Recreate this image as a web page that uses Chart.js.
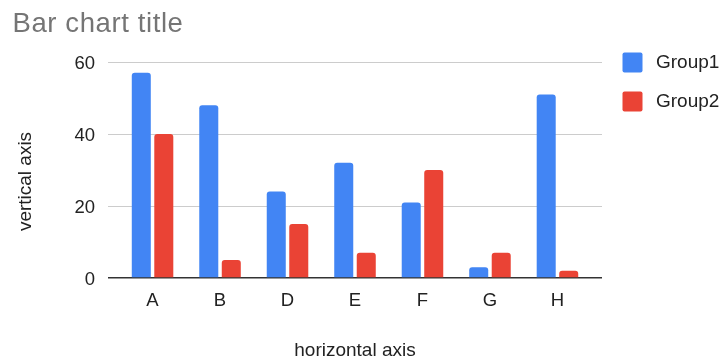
<!DOCTYPE html>
<html>
<head>
<meta charset="utf-8">
<script src="https://cdn.jsdelivr.net/npm/chart.js@4"></script>
<style>
  html, body { margin: 0; padding: 0; background: #fff; }
  #wrap { width: 721px; height: 362px; position: relative; }
</style>
</head>
<body>
<div id="wrap"><canvas id="c" width="721" height="362"></canvas></div>
<script>
// ---- data ----
const chartTitle = "Bar chart title";
const xAxisTitle = "horizontal axis";
const yAxisTitle = "vertical axis";
const categories = ["A", "B", "D", "E", "F", "G", "H"];
const seriesNames = ["Group1", "Group2"];
const group1 = [57, 48, 24, 32, 21, 3, 51];
const group2 = [40, 5, 15, 7, 30, 7, 2];
const yTicks = [0, 20, 40, 60];

const colors = ["#4285F4", "#EA4335"];
const FONT = "'Liberation Sans', Arial, Helvetica, sans-serif";

const toPoints = arr => arr.map((v, i) => ({ x: i, y: v }));

const decorPlugin = {
  id: 'decor',
  afterDraw(chart) {
    const ctx = chart.ctx;
    ctx.save();
    // title
    ctx.fillStyle = '#757575';
    ctx.font = '27.5px ' + FONT;
    ctx.textAlign = 'left';
    ctx.textBaseline = 'alphabetic';
    if ('letterSpacing' in ctx) ctx.letterSpacing = '0.6px';
    ctx.fillText(chartTitle, 12.5, 32);
    if ('letterSpacing' in ctx) ctx.letterSpacing = '0px';
    // y axis title
    ctx.save();
    ctx.translate(25.5, 181.5);
    ctx.rotate(-Math.PI / 2);
    ctx.fillStyle = '#222';
    ctx.font = '19px ' + FONT;
    ctx.textAlign = 'center';
    ctx.textBaseline = 'middle';
    ctx.fillText(yAxisTitle, 0, 0);
    ctx.restore();
    // legend
    chart.data.datasets.forEach((ds, i) => {
      const bx = 622.5, by = 52.5 + i * 39;
      ctx.fillStyle = ds.backgroundColor;
      ctx.beginPath();
      if (ctx.roundRect) ctx.roundRect(bx, by, 20, 20, 2); else ctx.rect(bx, by, 20, 20);
      ctx.fill();
      ctx.fillStyle = '#222';
      ctx.font = '19px ' + FONT;
      ctx.textAlign = 'left';
      ctx.textBaseline = 'middle';
      ctx.fillText(ds.label, 656, by + 10);
    });
    ctx.restore();
  }
};

new Chart(document.getElementById('c'), {
  type: 'bar',
  data: {
    datasets: [
      { label: seriesNames[0], data: toPoints(group1), backgroundColor: colors[0], borderRadius: 3, borderSkipped: 'start' },
      { label: seriesNames[1], data: toPoints(group2), backgroundColor: colors[1], borderRadius: 3, borderSkipped: 'start' }
    ]
  },
  options: {
    responsive: false,
    animation: false,
    devicePixelRatio: 1,
    layout: { padding: { left: 0, right: 119, top: 62, bottom: 0 } },
    plugins: {
      legend: { display: false },
      title: { display: false },
      tooltip: { enabled: false }
    },
    datasets: { bar: { barPercentage: 0.845, categoryPercentage: 0.667 } },
    scales: {
      x: {
        type: 'linear',
        min: -0.66,
        max: categories.length - 1 + 0.66,
        offset: false,
        grid: { display: false, drawTicks: false },
        border: { display: false },
        ticks: {
          stepSize: 1,
          includeBounds: false,
          autoSkip: false,
          maxRotation: 0,
          padding: 12,
          color: '#222',
          font: { family: FONT, size: 18.5 },
          callback: v => (Number.isInteger(v) && categories[v] !== undefined) ? categories[v] : ''
        },
        title: {
          display: true,
          text: xAxisTitle,
          color: '#222',
          font: { family: FONT, size: 19 },
          padding: { top: 0, bottom: 0 }
        },
        afterFit: s => { s.height = 84; }
      },
      y: {
        min: yTicks[0],
        max: yTicks[yTicks.length - 1],
        grid: {
          drawTicks: false,
          color: ctx => ctx.tick && ctx.tick.value === 0 ? '#333333' : '#cccccc',
          lineWidth: ctx => ctx.tick && ctx.tick.value === 0 ? 1.6 : 1
        },
        border: { display: false },
        ticks: {
          stepSize: 20,
          padding: 13,
          labelOffset: 1.5,
          color: '#222',
          font: { family: FONT, size: 18.5 },
          callback: v => yTicks.includes(v) ? String(v) : ''
        },
        afterFit: s => { s.width = 108; }
      }
    }
  },
  plugins: [decorPlugin]
});
</script>
</body>
</html>
